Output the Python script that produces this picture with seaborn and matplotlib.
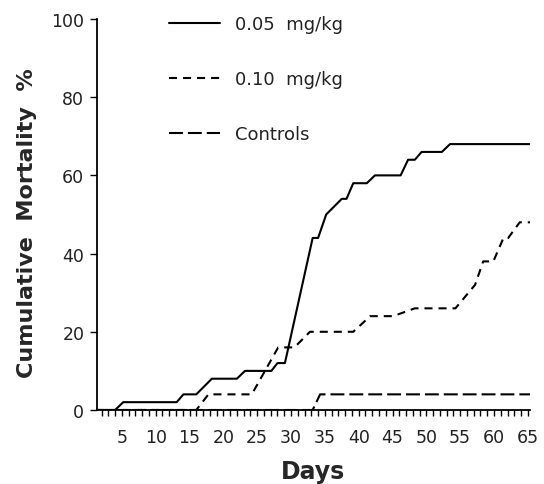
import numpy as np
import pandas as pd
import matplotlib
matplotlib.use("Agg")
import matplotlib.pyplot as plt
import seaborn as sns

# values (day, cumulative mortality %)
days_005 = [1, 4.0, 5.2, 13.1, 14.1, 16.0, 18.3, 22.0, 23.2, 27.1, 28.0, 29.1, 33.2,
            34.0, 35.2, 37.5, 38.2, 39.2, 41.2, 42.4, 46.2, 47.3, 48.3, 49.3, 52.3,
            53.5, 65.5]
mort_005 = [0, 0, 2, 2, 4, 4, 8, 8, 10, 10, 12, 12, 44,
            44, 50, 54, 54, 58, 58, 60, 60, 64, 64, 66, 66,
            68, 68]

days_010 = [1, 16.0, 17.8, 24.2, 28.1, 30.5, 32.8, 39.2, 41.7, 45.1, 48.3, 54.3,
            57.2, 58.4, 59.9, 61.4, 62.1, 63.8, 65.5]
mort_010 = [0, 0, 4, 4, 16, 16, 20, 20, 24, 24, 26, 26,
            32, 38, 38, 44, 44, 48, 48]

days_ctrl = [1, 33.2, 34.3, 65.5]
mort_ctrl = [0, 0, 4, 4]

labels = ['0.05  mg/kg', '0.10  mg/kg', 'Controls']

sns.set_style("ticks")
plt.rcParams['font.family'] = ['DejaVu Sans']
plt.rcParams['lines.scale_dashes'] = False

fig = plt.figure(figsize=(5.44, 4.85), dpi=100)
ax = fig.add_axes([0.178, 0.1526, 0.796, 0.8062])

series = [(days_005, mort_005, labels[0], (None, None)),
          (days_010, mort_010, labels[1], (5.8, 4.3)),
          (days_ctrl, mort_ctrl, labels[2], (10, 3.6))]

for d, m, lab, dash in series:
    df = pd.DataFrame({'Day': d, 'Mortality': m})
    sns.lineplot(data=df, x='Day', y='Mortality', ax=ax, color='black',
                 linewidth=1.5, estimator=None, sort=False, label=lab)
    if dash[0] is not None:
        ax.lines[-1].set_dashes(dash)

ax.set_xlim(1.3, 65.3)
ax.set_ylim(0, 100)
ax.set_xticks(np.arange(5, 66, 5))
ax.set_xticks(np.arange(2, 66, 1), minor=True)
ax.set_yticks(np.arange(0, 101, 20))
ax.tick_params(axis='x', which='both', direction='out', length=4, width=1,
               labelsize=12.5, pad=9, colors='black')
ax.tick_params(axis='y', direction='out', length=5, width=1, labelsize=12.5,
               pad=4, colors='black')
for s in ['top', 'right']:
    ax.spines[s].set_visible(False)
for s in ['left', 'bottom']:
    ax.spines[s].set_linewidth(1.3)
    ax.spines[s].set_color('black')

for t in ax.get_xticklabels() + ax.get_yticklabels():
    t.set_color('#222222')

ax.set_xlabel('Days', fontsize=17, fontweight='bold', labelpad=9)
ax.set_ylabel('Cumulative  Mortality  %', fontsize=16, fontweight='bold', labelpad=10)
ax.yaxis.label.set_y(0.48)

leg = ax.legend(loc='upper left', bbox_to_anchor=(0.294, 0.985),
                bbox_transform=fig.transFigure, frameon=False, fontsize=13,
                handlelength=2.8, handletextpad=0.85, labelspacing=2.05, borderpad=0)
for t in leg.get_texts():
    t.set_color('#222222')

fig.savefig('out.png', dpi=100)
